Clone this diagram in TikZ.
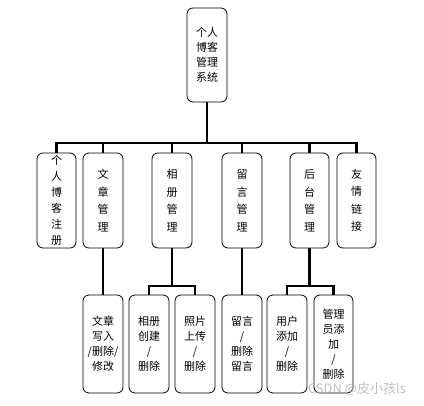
\documentclass[tikz,border=0pt]{standalone}
\usepackage{fontspec}
\usetikzlibrary{calc}
\newfontfamily\cjk{Noto Sans CJK SC}
\begin{document}
\begin{tikzpicture}[x=1pt,y=-1pt,
  box/.style={draw, rounded corners=6pt, line width=0.8pt, inner sep=0pt,
    align=center, minimum width=40pt, font=\cjk\fontsize{11}{15}\selectfont},
  lvtwo/.style={box, minimum height=95pt, font=\cjk\fontsize{11}{17.5}\selectfont},
  lvthree/.style={box, minimum height=98pt},
  conn/.style={line width=2.1pt}]
\useasboundingbox (0,0) rectangle (424,406);
\fill[white] (0,0) rectangle (424,406);
\node[box, minimum height=94pt] (top) at (207,55) {个人\\博客\\管理\\系统};
\node[lvtwo, font=\cjk\fontsize{11}{16}\selectfont, minimum width=39pt] (a1) at (56.5,200.5) {个\\人\\博\\客\\注\\册};
\node[lvtwo] (a2) at (103,200.5) {文\\章\\管\\理};
\node[lvtwo] (a3) at (172,200.5) {相\\册\\管\\理};
\node[lvtwo] (a4) at (242,200.5) {留\\言\\管\\理};
\node[lvtwo, minimum width=39pt] (a5) at (309.5,200.5) {后\\台\\管\\理};
\node[lvtwo, minimum width=39pt] (a6) at (356.5,200.5) {友\\情\\链\\接};
\node[lvthree] (b1) at (103,344) {文章\\写入\\/删除/\\修改};
\node[lvthree] (b2) at (149,344) {相册\\创建\\/\\删除};
\node[lvthree] (b3) at (195,344) {照片\\上传\\/\\删除};
\node[lvthree] (b4) at (242,344) {留言\\/\\删除\\留言};
\node[lvthree] (b5) at (287,344) {用户\\添加\\/\\删除};
\node[lvthree, minimum width=39pt] (b6) at (333.5,344) {管理\\员添\\加\\/\\删除};
\coordinate (j0) at ($(top.south)+(0,41)$);
\foreach \n in {a1,a2,a3,a4,a5,a6} \draw[conn] (top.south) -- (j0) -| (\n.north);
\draw[conn] (a2.south) -- (b1.north);
\coordinate (j3) at ($(a3.south)+(0,38)$);
\draw[conn] (a3.south) -- (j3) -| (b2.north);
\draw[conn] (j3) -| (b3.north);
\draw[conn] (a4.south) -- (b4.north);
\coordinate (j5) at ($(a5.south)+(0,38)$);
\draw[conn] (a5.south) -- (j5) -| (b5.north);
\draw[conn] (j5) -| (b6.north);
\node[text=gray!60, opacity=0.8, font=\cjk\fontsize{13}{14}\selectfont, inner sep=0pt] (wm) at (357,389) {CSDN @皮小孩ls};
\end{tikzpicture}
\end{document}
